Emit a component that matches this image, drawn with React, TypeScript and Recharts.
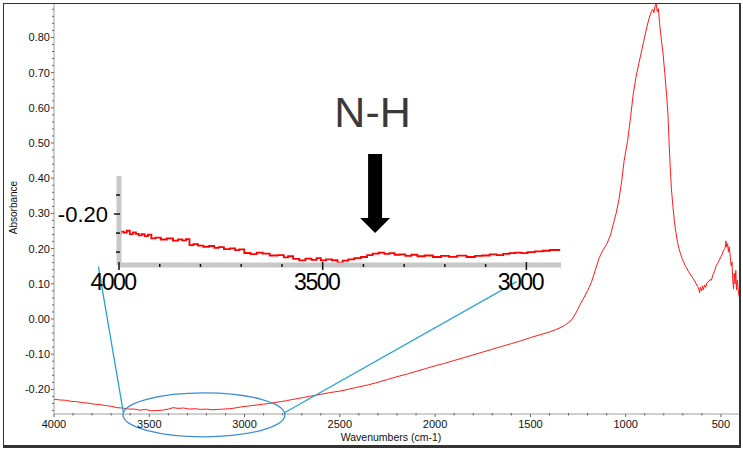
import React from 'react';
import { LineChart, Line, XAxis, YAxis, ReferenceLine, ReferenceDot } from 'recharts';

// main IR spectrum (cm-1 vs absorbance)
const wavenumbers = [
  4000, 3970, 3940, 3910, 3880, 3850, 3820, 3790, 3760, 3730, 3700, 3670, 3640, 3610, 3580, 3550,
  3520, 3490, 3460, 3430, 3400, 3375, 3350, 3320, 3290, 3260, 3230, 3200, 3170, 3140, 3110, 3080,
  3050, 3020, 2990, 2960, 2930, 2900, 2870, 2840, 2810, 2780, 2750, 2720, 2690, 2660, 2630, 2600,
  2550, 2500, 2450, 2400, 2350, 2300, 2250, 2200, 2150, 2100, 2050, 2000, 1950, 1900, 1850, 1800,
  1750, 1700, 1650, 1600, 1550, 1500, 1450, 1400, 1370, 1340, 1320, 1300, 1280, 1260, 1240, 1220,
  1200, 1180, 1160, 1140, 1120, 1100, 1080, 1060, 1050, 1035, 1020, 1008, 990, 975, 960, 945,
  930, 915, 905, 895, 885, 875, 865, 858, 852, 846, 840, 834, 828, 822, 812, 803,
  795, 785, 778, 772, 766, 760, 752, 744, 736, 728, 720, 712, 704, 696, 688, 680,
  670, 662, 654, 646, 638, 630, 622, 616, 612, 608, 602, 597, 592, 586, 580, 574,
  566, 558, 550, 542, 534, 526, 518, 510, 502, 494, 486, 478, 474, 470, 465, 461,
  456, 451, 446, 442, 438, 434, 430, 426, 422, 418, 414, 410, 406, 402,
];
const absorbance = [
  -0.228, -0.23, -0.231, -0.234, -0.235, -0.238, -0.239, -0.242, -0.243, -0.246, -0.248, -0.252, -0.253, -0.256, -0.256, -0.259,
  -0.257, -0.261, -0.26, -0.259, -0.256, -0.252, -0.254, -0.253, -0.256, -0.255, -0.257, -0.256, -0.258, -0.257, -0.256, -0.255,
  -0.253, -0.25, -0.248, -0.246, -0.244, -0.242, -0.24, -0.237, -0.235, -0.232, -0.229, -0.226, -0.223, -0.22, -0.217, -0.214,
  -0.209, -0.205, -0.199, -0.193, -0.187, -0.18, -0.172, -0.164, -0.157, -0.149, -0.141, -0.133, -0.126, -0.118, -0.11, -0.102,
  -0.094, -0.086, -0.078, -0.07, -0.062, -0.053, -0.045, -0.037, -0.031, -0.024, -0.018, -0.01, 0.0, 0.018, 0.04, 0.06,
  0.08, 0.104, 0.138, 0.172, 0.195, 0.212, 0.238, 0.28, 0.3, 0.34, 0.395, 0.45, 0.505, 0.57, 0.64, 0.69,
  0.728, 0.765, 0.79, 0.815, 0.838, 0.858, 0.874, 0.88, 0.87, 0.889, 0.895, 0.873, 0.882, 0.84, 0.79, 0.75,
  0.7, 0.636, 0.58, 0.5, 0.43, 0.37, 0.32, 0.275, 0.245, 0.218, 0.2, 0.185, 0.172, 0.162, 0.152, 0.145,
  0.134, 0.128, 0.122, 0.115, 0.108, 0.1, 0.092, 0.085, 0.074, 0.09, 0.08, 0.094, 0.083, 0.097, 0.09, 0.102,
  0.105, 0.112, 0.11, 0.126, 0.134, 0.15, 0.158, 0.165, 0.175, 0.184, 0.196, 0.2, 0.222, 0.205, 0.214, 0.19,
  0.205, 0.175, 0.15, 0.162, 0.112, 0.085, 0.13, 0.1, 0.138, 0.082, 0.11, 0.085, 0.068, 0.06,
];

// zoomed inset (4000-2900 cm-1), with its own scale
const insetWavenumbers = [
  4000, 3992, 3985, 3977, 3970, 3962, 3955, 3948, 3941, 3933, 3925, 3916, 3905, 3890, 3875, 3860,
  3850, 3840, 3831, 3823, 3812, 3800, 3786, 3772, 3760, 3750, 3735, 3720, 3710, 3700, 3685, 3669,
  3655, 3640, 3620, 3601, 3590, 3580, 3565, 3550, 3535, 3520, 3510, 3499, 3485, 3470, 3457, 3445,
  3430, 3415, 3397, 3385, 3370, 3355, 3342, 3330, 3317, 3304, 3290, 3275, 3260, 3240, 3219, 3200,
  3180, 3160, 3134, 3118, 3100, 3080, 3065, 3049, 3035, 3020, 3005, 2989, 2970, 2950, 2935, 2917,
];
const insetAbsorbance = [
  -0.2105, -0.2092, -0.2098, -0.2088, -0.2106, -0.2096, -0.2104, -0.2112, -0.2106, -0.2116, -0.2108, -0.2128, -0.2124, -0.2134, -0.2128, -0.214,
  -0.2133, -0.2138, -0.2132, -0.2163, -0.2158, -0.2166, -0.2172, -0.2168, -0.2178, -0.2174, -0.2185, -0.2181, -0.219, -0.2186, -0.2205, -0.2211,
  -0.2203, -0.2208, -0.2218, -0.2216, -0.2228, -0.2222, -0.2236, -0.2244, -0.2235, -0.2241, -0.2232, -0.2244, -0.2238, -0.2243, -0.2256, -0.2245,
  -0.2238, -0.2232, -0.2226, -0.2216, -0.2208, -0.2203, -0.221, -0.2206, -0.2214, -0.2212, -0.222, -0.2214, -0.2222, -0.2218, -0.2226, -0.222,
  -0.2225, -0.2219, -0.2226, -0.222, -0.2218, -0.2212, -0.2216, -0.2209, -0.2206, -0.2203, -0.2206, -0.22, -0.2196, -0.2193, -0.2189, -0.2189,
];

const xTickLabels = [4000, 3500, 3000, 2500, 2000, 1500, 1000, 500];
const insetXTickLabels = [4000, 3500, 3000];
const insetYTicks = [-0.19, -0.2, -0.21, -0.22];
const insetYTickLabels = [-0.2];

const FONT = "'Liberation Sans', Arial, Helvetica, sans-serif";

const spectrum = wavenumbers.map((w, i) => ({ w, a: absorbance[i] }));
const insetSpectrum = insetWavenumbers.map((w, i) => ({ w, a: insetAbsorbance[i] }));

const xTicks: number[] = [];
for (let v = 4000; v >= 400; v -= 100) xTicks.push(v);
const yTicks: number[] = [];
for (let i = -13; i <= 44; i++) yTicks.push(i / 50);

const insetXTicks: number[] = [];
for (let v = 4000; v >= 3000; v -= 100) insetXTicks.push(v);

const MainXTick = (props: any) => {
  const { x, y, payload } = props;
  const major = xTickLabels.includes(payload.value);
  return (
    <g>
      <line x1={x} x2={x} y1={major ? y : y - 1} y2={major ? y + 3 : y + 1.5} stroke="#666" />
      {major && (
        <text x={x} y={y + 13.5} textAnchor="middle" fontSize={11} fontFamily={FONT} fill="#111">
          {payload.value}
        </text>
      )}
    </g>
  );
};

const MainYTick = (props: any) => {
  const { x, y, payload } = props;
  const major = Math.round(payload.value * 50) % 5 === 0;
  return (
    <g>
      <line x1={major ? x - 3 : x - 2} x2={x} y1={y} y2={y} stroke="#666" />
      {major && (
        <text x={x - 4} y={y + 4} textAnchor="end" fontSize={11} fontFamily={FONT} fill="#111">
          {payload.value.toFixed(2)}
        </text>
      )}
    </g>
  );
};

const InsetXTick = (props: any) => {
  const { x, y, payload } = props;
  const major = insetXTickLabels.includes(payload.value);
  return (
    <g>
      <line x1={x} x2={x} y1={major ? y - 3 : y - 1} y2={major ? y + 5 : y + 2} stroke="#111" strokeWidth={1.5} />
      {major && (
        <text x={x - 6} y={y + 25} textAnchor="middle" fontSize={23} letterSpacing={-1.5} fontFamily={FONT} fill="#000">
          {payload.value}
        </text>
      )}
    </g>
  );
};

const InsetYTick = (props: any) => {
  const { x, y, payload } = props;
  const major = insetYTickLabels.some((t) => Math.abs(t - payload.value) < 1e-6);
  return (
    <g>
      <line x1={major ? x - 5 : x - 3} x2={x + 1} y1={y} y2={y} stroke="#111" strokeWidth={1.5} />
      {major && (
        <text x={x - 11} y={y + 8} textAnchor="end" fontSize={22} fontFamily={FONT} fill="#000">
          {payload.value.toFixed(2)}
        </text>
      )}
    </g>
  );
};

const Ellipse = (p: any) => (
  <ellipse cx={p.cx} cy={p.cy} rx={81} ry={22} fill="none" stroke="#3a8ed4" strokeWidth={1.3} />
);

const NHArrow = (p: any) => {
  const { cx, cy } = p;
  const pts = [
    [cx - 7, cy - 79],
    [cx + 7, cy - 79],
    [cx + 7, cy - 15],
    [cx + 15, cy - 15],
    [cx, cy],
    [cx - 15, cy - 15],
    [cx - 7, cy - 15],
  ]
    .map((q) => q.join(','))
    .join(' ');
  return (
    <g>
      <polygon points={pts} fill="#000" />
      <text x={cx - 2.5} y={cy - 106} textAnchor="middle" fontSize={43} fontFamily={FONT} fill="#3a3a3a">
        N-H
      </text>
    </g>
  );
};

export default function App() {
  return (
    <div style={{ position: 'absolute', left: 0, top: 0, width: 743, height: 450, background: '#fff' }}>
      <div style={{ position: 'absolute', left: 0, top: 0 }}>
        <LineChart width={743} height={450} data={spectrum} margin={{ top: 4, right: 3, left: 10, bottom: 6 }}>
          <XAxis
            dataKey="w"
            type="number"
            domain={[400, 4000]}
            reversed
            allowDataOverflow
            ticks={xTicks}
            interval={0}
            tick={<MainXTick />}
            tickLine={false}
            tickSize={0}
            tickMargin={0}
            height={30}
            axisLine={{ stroke: '#a0a0a0' }}
          />
          <YAxis
            type="number"
            domain={[-0.27, 0.895]}
            allowDataOverflow
            ticks={yTicks}
            interval={0}
            tick={<MainYTick />}
            tickLine={false}
            tickSize={0}
            tickMargin={0}
            width={44}
            axisLine={{ stroke: '#a0a0a0' }}
          />
          <Line dataKey="a" type="linear" stroke="#ff1a1a" strokeWidth={1} dot={false} isAnimationActive={false} />
          <ReferenceLine
            segment={[{ x: 3767, y: 0.149 }, { x: 3636, y: -0.2657 }]}
            stroke="#21a3d0"
            strokeWidth={1.3}
            ifOverflow="visible"
          />
          <ReferenceLine
            segment={[{ x: 2793, y: -0.267 }, { x: 1572, y: 0.106 }]}
            stroke="#21a3d0"
            strokeWidth={1.3}
            ifOverflow="visible"
          />
          <ReferenceDot x={3213} y={-0.2723} r={1} ifOverflow="visible" shape={<Ellipse />} />
          <ReferenceDot x={2315} y={0.2444} r={1} ifOverflow="visible" shape={<NHArrow />} />
        </LineChart>
      </div>

      <div style={{ position: 'absolute', left: 0, top: 0, pointerEvents: 'none' }}>
        <LineChart width={743} height={450} data={insetSpectrum} margin={{ top: 176, right: 182, left: 59, bottom: 145 }}>
          <XAxis
            dataKey="w"
            type="number"
            domain={[2915, 4000]}
            reversed
            allowDataOverflow
            ticks={insetXTicks}
            interval={0}
            tick={<InsetXTick />}
            tickLine={false}
            tickSize={0}
            tickMargin={0}
            height={40}
            axisLine={{ stroke: '#c8c8c8', strokeWidth: 5 }}
          />
          <YAxis
            type="number"
            domain={[-0.2268, -0.18]}
            allowDataOverflow
            ticks={insetYTicks}
            interval={0}
            tick={<InsetYTick />}
            tickLine={false}
            tickSize={0}
            tickMargin={0}
            width={60}
            axisLine={{ stroke: '#c8c8c8', strokeWidth: 5 }}
          />
          <Line dataKey="a" type="step" stroke="#ff0000" strokeWidth={1.8} dot={false} isAnimationActive={false} />
        </LineChart>
      </div>

      <svg width={743} height={450} style={{ position: 'absolute', left: 0, top: 0, pointerEvents: 'none' }}>
        <text
          x={13.5}
          y={207.5}
          transform="rotate(-90 13.5 207.5)"
          textAnchor="middle"
          dominantBaseline="central"
          fontSize={10}
          fontFamily={FONT}
          fill="#111"
        >
          Absorbance
        </text>
        <text x={391} y={441} textAnchor="middle" fontSize={10.5} fontFamily={FONT} fill="#111">
          Wavenumbers (cm-1)
        </text>
      </svg>

      <div
        style={{
          position: 'absolute',
          left: 3,
          top: 3,
          width: 738,
          height: 445,
          boxSizing: 'border-box',
          borderStyle: 'solid',
          borderColor: '#333',
          borderWidth: '1.5px 2.5px 3px 1.5px',
          pointerEvents: 'none',
        }}
      />
    </div>
  );
}
